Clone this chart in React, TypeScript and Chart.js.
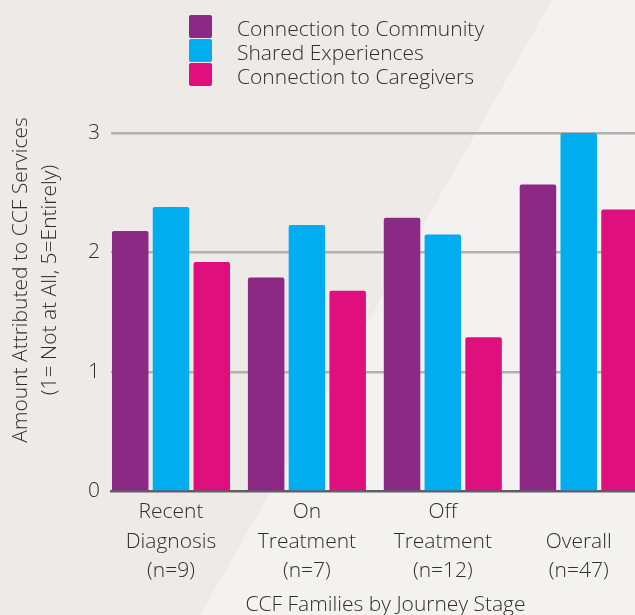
import React, { useEffect, useRef } from "react";
import { Chart, registerables } from "chart.js";

Chart.register(...registerables);

// Journey stages (multi-line axis labels)
const STAGES: string[][] = [
  ["Recent", "Diagnosis", "(n=9)"],
  ["On", "Treatment", "(n=7)"],
  ["Off", "Treatment", "(n=12)"],
  ["", "Overall", "(n=47)"],
];

const SERIES_NAMES = [
  "Connection to Community",
  "Shared Experiences",
  "Connection to Caregivers",
];

// Mean amount attributed to CCF services, per stage
const COMMUNITY = [2.18, 1.79, 2.29, 2.57];
const SHARED = [2.38, 2.23, 2.15, 3.0];
const CAREGIVERS = [1.92, 1.68, 1.29, 2.36];

const Y_TICKS = [0, 1, 2, 3];

const COLORS = ["#8b2984", "#00aeef", "#df0f7d"];

const FONT_FAMILY = "'Open Sans', 'Noto Sans', sans-serif";
const FONT_SIZE = 21;
const TEXT_COLOR = "#2e2e2e";
const BG_DARK = "#edeae7";
const BG_LIGHT = "#f3f2f1";

const CANVAS_W = 660;
const CANVAS_H = 630;

const backgroundPlugin = {
  id: "twoToneBackground",
  beforeDraw(chart: Chart) {
    const { ctx, width, height } = chart;
    ctx.save();
    ctx.fillStyle = BG_DARK;
    ctx.fillRect(0, 0, width, height);
    // lighter diagonal panel on the right
    const topX = 552;
    const slope = 0.5724;
    ctx.fillStyle = BG_LIGHT;
    ctx.beginPath();
    ctx.moveTo(topX, 0);
    ctx.lineTo(width, 0);
    ctx.lineTo(width, height);
    ctx.lineTo(topX - slope * height, height);
    ctx.closePath();
    ctx.fill();
    ctx.restore();
  },
};

const legendPlugin = {
  id: "stackedLegend",
  afterDraw(chart: Chart) {
    const { ctx } = chart;
    const boxX = 189;
    const boxTop = 15;
    const box = 23;
    const pitch = 24;
    ctx.save();
    ctx.font = `300 ${FONT_SIZE}px ${FONT_FAMILY}`;
    ctx.textBaseline = "alphabetic";
    ctx.textAlign = "left";
    chart.data.datasets.forEach((ds, i) => {
      const y = boxTop + i * pitch;
      ctx.fillStyle = ds.backgroundColor as string;
      ctx.beginPath();
      (ctx as any).roundRect(boxX, y, box, box, 2);
      ctx.fill();
      ctx.fillStyle = TEXT_COLOR;
      ctx.fillText(ds.label as string, 237, y + 21);
    });
    ctx.restore();
  },
};

const yTitlePlugin = {
  id: "yTitle",
  afterDraw(chart: Chart) {
    const { ctx } = chart;
    ctx.save();
    ctx.font = `300 ${FONT_SIZE}px ${FONT_FAMILY}`;
    ctx.fillStyle = TEXT_COLOR;
    ctx.textAlign = "center";
    ctx.textBaseline = "middle";
    ctx.translate(0, 280);
    ctx.rotate(-Math.PI / 2);
    ctx.fillText("Amount Attributed to CCF Services", 0, 21);
    ctx.fillText("(1= Not at All, 5=Entirely)", 0, 50);
    ctx.restore();
  },
};

export default function App() {
  const canvasRef = useRef<HTMLCanvasElement | null>(null);

  useEffect(() => {
    document.body.style.margin = "0";
    const canvas = canvasRef.current;
    if (!canvas) return;

    const values = [COMMUNITY, SHARED, CAREGIVERS];
    const chart = new Chart(canvas, {
      type: "bar",
      data: {
        datasets: values.map((arr, i) => ({
          label: SERIES_NAMES[i],
          data: arr.map((y, x) => ({ x, y })),
          backgroundColor: COLORS[i],
          borderRadius: 2,
          borderSkipped: "start",
          categoryPercentage: 0.9,
          barPercentage: 0.895,
        })),
      },
      options: {
        animation: false,
        responsive: false,
        devicePixelRatio: 1,
        layout: { padding: { top: 133, left: 0, right: 0, bottom: 0 } },
        plugins: {
          legend: { display: false },
          tooltip: { enabled: false },
        },
        scales: {
          x: {
            type: "linear",
            offset: false,
            min: -0.4415,
            max: 3.598,
            afterBuildTicks: (scale: any) => {
              scale.ticks = scale.ticks.filter((t: any) =>
                Number.isInteger(t.value)
              );
            },
            afterFit: (scale: any) => {
              scale.height = CANVAS_H - 491.5;
            },
            ticks: {
              stepSize: 1,
              includeBounds: false,
              autoSkip: false,
              maxRotation: 0,
              padding: -2,
              color: TEXT_COLOR,
              font: { family: FONT_FAMILY, size: FONT_SIZE, weight: 300, lineHeight: 1.4 },
              callback: (v: any) => STAGES[v as number] ?? "",
            },
            grid: { display: false },
            border: { display: true, color: "#5f5f5f", width: 2.5 },
            title: {
              display: true,
              text: "CCF Families by Journey Stage",
              color: TEXT_COLOR,
              font: { family: FONT_FAMILY, size: FONT_SIZE, weight: 300, lineHeight: 1.2 },
              padding: { top: 0, bottom: 12 },
            },
          },
          y: {
            min: Y_TICKS[0],
            max: Y_TICKS[Y_TICKS.length - 1],
            afterFit: (scale: any) => {
              scale.width = 111;
            },
            ticks: {
              stepSize: 1,
              padding: 11,
              color: TEXT_COLOR,
              font: { family: FONT_FAMILY, size: FONT_SIZE, weight: 300 },
            },
            grid: {
              drawTicks: false,
              lineWidth: 2.5,
              color: (c: any) => (c.tick && c.tick.value === 0 ? "rgba(0,0,0,0)" : "#b3b1ae"),
            },
            border: { display: false },
          },
        },
      },
      plugins: [backgroundPlugin, legendPlugin, yTitlePlugin],
    } as any);

    return () => chart.destroy();
  }, []);

  return (
    <div
      style={{
        position: "fixed",
        left: 0,
        top: 0,
        width: 635,
        height: 615,
        overflow: "hidden",
      }}
    >
      <canvas
        ref={canvasRef}
        width={CANVAS_W}
        height={CANVAS_H}
        style={{ display: "block", width: CANVAS_W, height: CANVAS_H }}
      />
    </div>
  );
}
